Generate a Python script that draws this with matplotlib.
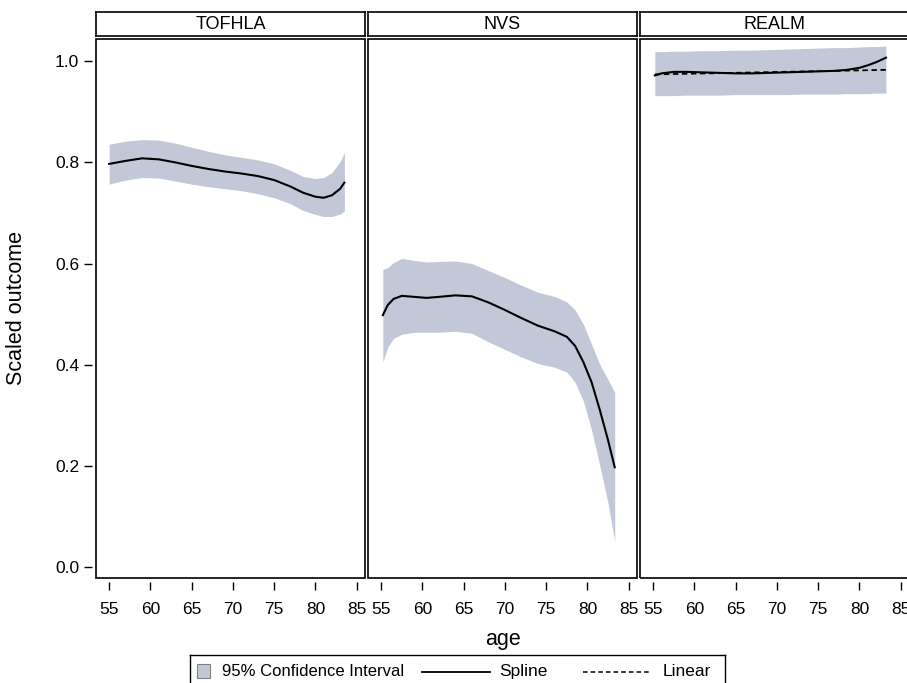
import matplotlib.pyplot as plt
from matplotlib.patches import Rectangle
from matplotlib.lines import Line2D

plt.rcParams['font.family'] = ['Liberation Sans', 'DejaVu Sans']

panels = ['TOFHLA', 'NVS', 'REALM']
xticks = [55, 60, 65, 70, 75, 80, 85]
yticks = [0.0, 0.2, 0.4, 0.6, 0.8, 1.0]

tof_age = [55, 57, 59, 61, 63, 65, 67, 69, 71, 73, 75, 77, 78.5, 80, 81, 82, 83, 83.5]
tof_fit = [0.797, 0.803, 0.808, 0.806, 0.800, 0.793, 0.787, 0.782, 0.778, 0.773, 0.765, 0.752,
           0.740, 0.732, 0.730, 0.735, 0.748, 0.760]
tof_hi = [0.836, 0.842, 0.845, 0.844, 0.838, 0.830, 0.822, 0.815, 0.810, 0.805, 0.797, 0.784,
          0.772, 0.768, 0.770, 0.780, 0.802, 0.820]
tof_lo = [0.757, 0.765, 0.770, 0.769, 0.763, 0.757, 0.752, 0.748, 0.744, 0.738, 0.730, 0.718,
          0.705, 0.697, 0.693, 0.693, 0.698, 0.704]

nvs_age = [55.2, 55.8, 56.5, 57.5, 59, 60.5, 62, 64, 66, 68, 70, 72, 74, 76, 77.5, 78.5, 79.5,
           80.5, 81.5, 82.5, 83.3]
nvs_fit = [0.498, 0.518, 0.530, 0.536, 0.534, 0.532, 0.534, 0.537, 0.535, 0.523, 0.508, 0.492,
           0.477, 0.466, 0.455, 0.437, 0.405, 0.365, 0.310, 0.250, 0.197]
nvs_hi = [0.588, 0.592, 0.602, 0.610, 0.606, 0.603, 0.604, 0.605, 0.600, 0.586, 0.572, 0.557,
          0.543, 0.535, 0.524, 0.508, 0.480, 0.440, 0.400, 0.370, 0.345]
nvs_lo = [0.405, 0.435, 0.452, 0.460, 0.464, 0.464, 0.464, 0.466, 0.462, 0.445, 0.430, 0.415,
          0.402, 0.395, 0.385, 0.365, 0.328, 0.270, 0.200, 0.125, 0.050]

realm_age = [55.2, 56, 57.5, 59, 61, 63, 65, 67, 69, 71, 73, 75, 77, 78.5, 80, 81, 82, 83.2]
realm_fit = [0.972, 0.976, 0.979, 0.979, 0.978, 0.977, 0.976, 0.976, 0.977, 0.978, 0.979, 0.980,
             0.981, 0.983, 0.987, 0.992, 0.998, 1.007]
realm_hi = [1.019, 1.019, 1.020, 1.020, 1.021, 1.021, 1.022, 1.022, 1.023, 1.024, 1.025, 1.026,
            1.027, 1.027, 1.028, 1.029, 1.029, 1.030]
realm_lo = [0.932, 0.932, 0.932, 0.933, 0.933, 0.933, 0.934, 0.934, 0.934, 0.934, 0.935, 0.935,
            0.935, 0.936, 0.936, 0.936, 0.937, 0.937]
realm_lin_age = [55.2, 83.2]
realm_lin = [0.974, 0.983]

band_color = '#c3c8d9'

curves = [
    (tof_age, tof_fit, tof_hi, tof_lo, None, None),
    (nvs_age, nvs_fit, nvs_hi, nvs_lo, None, None),
    (realm_age, realm_fit, realm_hi, realm_lo, realm_lin_age, realm_lin),
]

W, H = 907, 683
fig = plt.figure(figsize=(W / 100, H / 100), dpi=100)

pw = 269
lefts = [96, 368, 640]
top, bottom = 38.5, 578

for i, name in enumerate(panels):
    ax = fig.add_axes([lefts[i] / W, 1 - bottom / H, pw / W, (bottom - top) / H])
    age, fit, hi, lo, lage, lin = curves[i]
    ax.fill_between(age, lo, hi, color=band_color, linewidth=0)
    ax.plot(age, fit, color='black', linewidth=1.5)
    if lage is not None:
        ax.plot(lage, lin, color='black', linewidth=1.3, linestyle=(0, (3, 2)))
    ax.set_xlim(53.4, 86.0)
    ax.set_ylim(-0.022, 1.045)
    ax.set_xticks(xticks)
    ax.tick_params(axis='x', direction='out', length=6, width=1, labelsize=12.5, pad=8.5)
    # ticks sit a few pixels away from the panel frame
    for s in ax.spines.values():
        s.set_color('none')
    ax.spines['bottom'].set_position(('outward', 3))
    ax.spines['left'].set_position(('outward', 3))
    ax.add_patch(Rectangle((0, 0), 1, 1, transform=ax.transAxes, fill=False,
                           edgecolor='black', linewidth=1.2, clip_on=False, zorder=5))
    if i == 0:
        ax.set_yticks(yticks)
        ax.set_yticklabels(['%.1f' % v for v in yticks])
        ax.tick_params(axis='y', direction='out', length=5.5, width=1, labelsize=12.5, pad=3.5)
        ax.set_ylabel('Scaled outcome', fontsize=15.5)
        ax.yaxis.set_label_coords(-0.2565, 0.5)
    else:
        ax.set_yticks([])

    # strip header
    sax = fig.add_axes([lefts[i] / W, 1 - 35.5 / H, pw / W, 23.5 / H])
    sax.set_xticks([])
    sax.set_yticks([])
    for s in sax.spines.values():
        s.set_linewidth(1.2)
    sax.text(0.5, 0.45, name, ha='center', va='center', fontsize=13, transform=sax.transAxes)

fig.text(503 / W, 1 - 640 / H, 'age', ha='center', va='center', fontsize=15.5)

# legend box
lax = fig.add_axes([190 / W, -0.01, 535 / W, (683 - 655) / H + 0.01])
lax.set_xlim(0, 1)
lax.set_ylim(0, 1)
lax.set_xticks([])
lax.set_yticks([])
for s in lax.spines.values():
    s.set_linewidth(1.0)
yc = 0.52
lax.add_patch(Rectangle((0.013, yc - 0.18), 0.024, 0.4, facecolor=band_color,
                        edgecolor='#808080', linewidth=0.8))
lax.text(0.060, yc, '95% Confidence Interval', va='center', fontsize=12)
lax.add_line(Line2D([0.434, 0.561], [yc, yc], color='black', linewidth=1.3))
lax.text(0.578, yc, 'Spline', va='center', fontsize=12.5)
lax.add_line(Line2D([0.735, 0.862], [yc, yc], color='black', linewidth=1.1, linestyle=(0, (3, 2))))
lax.text(0.884, yc, 'Linear', va='center', fontsize=12.5)

fig.savefig('out.png', dpi=100)
